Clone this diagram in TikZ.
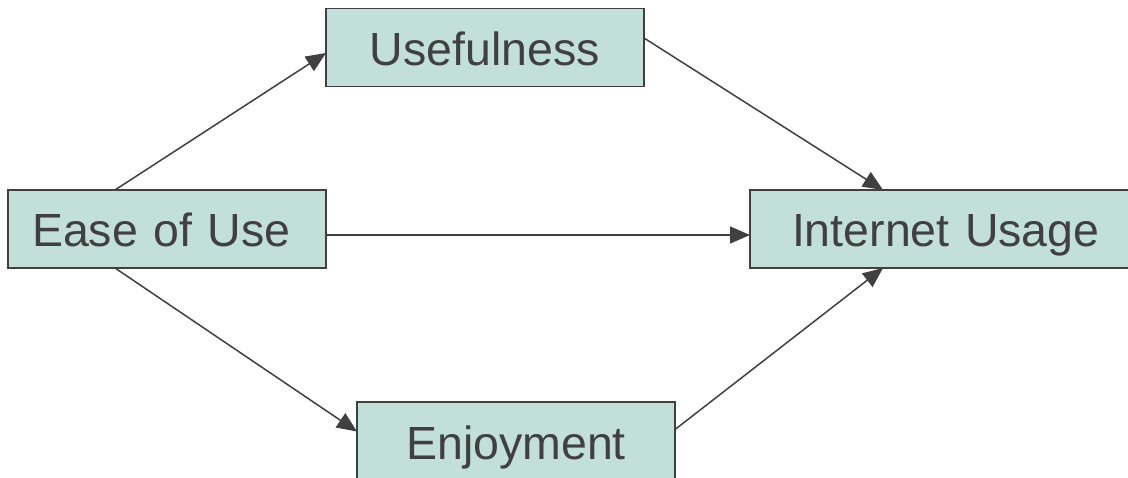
\documentclass[tikz,border=0pt]{standalone}
\usepackage{fontspec}
\setmainfont{Liberation Sans}
\usetikzlibrary{arrows.meta}
\definecolor{boxfill}{HTML}{C2DFD9}
\definecolor{ink}{HTML}{404040}
\begin{document}
\begin{tikzpicture}[x=1pt,y=-1pt,
  box/.style={draw=ink, line width=1.5pt, fill=boxfill, text=ink,
    font=\fontsize{46.5}{56}\selectfont, minimum height=78pt, inner sep=0pt,
    text height=36pt, text depth=0pt,
    anchor=north west, outer sep=0pt},
  conn/.style={draw=ink, line width=1.5pt, -{Triangle[length=20pt,width=17pt]}}]
\useasboundingbox (0,0) rectangle (1128,478);
\fill[white] (0,0) rectangle (1128,478);
\node[box, minimum width=318pt] (use) at (326,8.5) {Usefulness};
\node[box, minimum width=318pt, text width=270pt, align=left, inner xsep=24pt] (ease) at (8,190) {Ease of Use};
\node[box, minimum width=400pt, text width=316pt, align=left, inner xsep=42pt] (inet) at (750,190) {Internet Usage};
\node[box, minimum width=318pt] (enj) at (357,402) {Enjoyment};
\draw[conn] ([xshift=107pt]ease.north west) -- ([yshift=-5.5pt]use.west);
\draw[conn] ([yshift=9.5pt]use.east) -- ([xshift=133pt]inet.north west);
\draw[conn] ([yshift=-6pt]ease.east) -- ([yshift=-6pt]inet.west);
\draw[conn] ([xshift=107pt]ease.south west) -- ([yshift=9.5pt]enj.west);
\draw[conn] ([yshift=11.5pt]enj.east) -- ([xshift=133pt]inet.south west);
\end{tikzpicture}
\end{document}
